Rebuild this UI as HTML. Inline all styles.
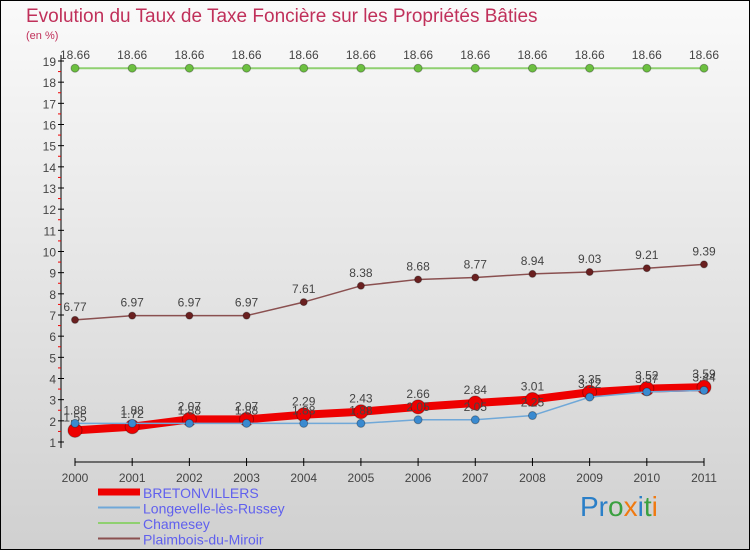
<!DOCTYPE html>
<html><head><meta charset="utf-8"><style>
html,body{margin:0;padding:0}
body{width:750px;height:550px;overflow:hidden;font-family:"Liberation Sans",sans-serif}
</style></head><body>
<svg id="c" width="750" height="550" xmlns="http://www.w3.org/2000/svg">
<defs><linearGradient id="bg" x1="0" y1="0" x2="0" y2="1"><stop offset="0" stop-color="#fafafa"/><stop offset="1" stop-color="#d0d0d0"/></linearGradient></defs>
<rect x="0" y="0" width="750" height="550" fill="url(#bg)" stroke="#000" stroke-width="2"/>
<text x="26" y="22" font-size="19" fill="#c0305a">Evolution du Taux de Taxe Foncière sur les Propriétés Bâties</text>
<text x="26" y="39" font-size="11" fill="#c0305a">(en %)</text>
<g id="axes"></g><g id="series"></g><g id="legend"></g>
<text x="580" y="516" font-size="28" font-family="Liberation Sans"><tspan fill="#2a7fc8">Pr</tspan><tspan fill="#3aa040">o</tspan><tspan fill="#f07a10">x</tspan><tspan fill="#2a7fc8">i</tspan><tspan fill="#3aa040">t</tspan><tspan fill="#f07a10">i</tspan></text>
</svg>
<script>
const years=["2000","2001","2002","2003","2004","2005","2006","2007","2008","2009","2010","2011"];
const bretonvillers=[1.55,1.72,2.07,2.07,2.29,2.43,2.66,2.84,3.01,3.35,3.52,3.59];
const longeville=[1.88,1.88,1.88,1.88,1.88,1.88,2.05,2.05,2.25,3.12,3.37,3.44];
const chamesey=[18.66,18.66,18.66,18.66,18.66,18.66,18.66,18.66,18.66,18.66,18.66,18.66];
const plaimbois=[6.77,6.97,6.97,6.97,7.61,8.38,8.68,8.77,8.94,9.03,9.21,9.39];
const yTicks=[1,2,3,4,5,6,7,8,9,10,11,12,13,14,15,16,17,18,19];
const NS="http://www.w3.org/2000/svg";
const X=i=>75+i*(704-75)/(years.length-1);
const Y=v=>442-(v-1)*(442-61)/18;
function mk(t,a,p){const e=document.createElementNS(NS,t);for(const k in a)e.setAttribute(k,a[k]);(p||document.getElementById('series')).appendChild(e);return e;}
const ax=document.getElementById('axes');
let e=mk('line',{x1:61,y1:55,x2:61,y2:448,stroke:'#000'},ax);


e=mk('line',{x1:75,y1:462,x2:704,y2:462,stroke:'#000'},ax);


yTicks.forEach(v=>{
 mk('line',{x1:58,y1:Y(v),x2:64,y2:Y(v),stroke:'#000'},ax);
 if(v<19)mk('line',{x1:58,y1:Y(v+0.5),x2:61,y2:Y(v+0.5),stroke:'#e00'},ax);
 const t=mk('text',{x:56,y:Y(v)+5,'font-size':12,'text-anchor':'end',fill:'#444'},ax);t.textContent=v;
 
 
});
years.forEach((y,i)=>{
 mk('line',{x1:X(i),y1:458,x2:X(i),y2:466,stroke:'#000'},ax);
 const t=mk('text',{x:X(i),y:482,'font-size':12,'text-anchor':'middle',fill:'#444'},ax);t.textContent=y;
 
 
});
function series(vals,color,w,r,dot,name){
 const g=mk('g',{});
 
 
 mk('polyline',{points:vals.map((v,i)=>X(i)+','+Y(v)).join(' '),fill:'none',stroke:color,'stroke-width':w,'stroke-linejoin':'round'},g);
 vals.forEach((v,i)=>{
  const c=mk('circle',{cx:X(i),cy:Y(v),r:r,fill:dot,stroke:'rgba(0,0,0,0.3)'},g);
  
  
  const t=mk('text',{x:X(i),y:Y(v)-9,'font-size':12,'text-anchor':'middle',fill:'#444'},g);t.textContent=v.toFixed(2);
  
  
 });
}
series(chamesey,'#8fd070',2,4,'#6cc040','chamesey');
series(plaimbois,'#8a5050',1.5,3.5,'#6a2020','plaimbois');
series(bretonvillers,'#ee0000',8,7,'#ee0000','bretonvillers');
series(longeville,'#70a8d8',1.5,4,'#3a8ad0','longeville');
const lg=document.getElementById('legend');
[['BRETONVILLERS','#ee0000',7],['Longevelle-lès-Russey','#70a8d8',2],['Chamesey','#8fd070',2],['Plaimbois-du-Miroir','#8a5050',2]].forEach((d,i)=>{
 const y=492+i*15.5;
 const l=mk('line',{x1:98,y1:y,x2:140,y2:y,stroke:d[1],'stroke-width':d[2]},lg);
 
 
 const t=mk('text',{x:143,y:y+6,'font-size':14,fill:'#6060ee'},lg);t.textContent=d[0];
 
 
});
</script>
</body></html>
